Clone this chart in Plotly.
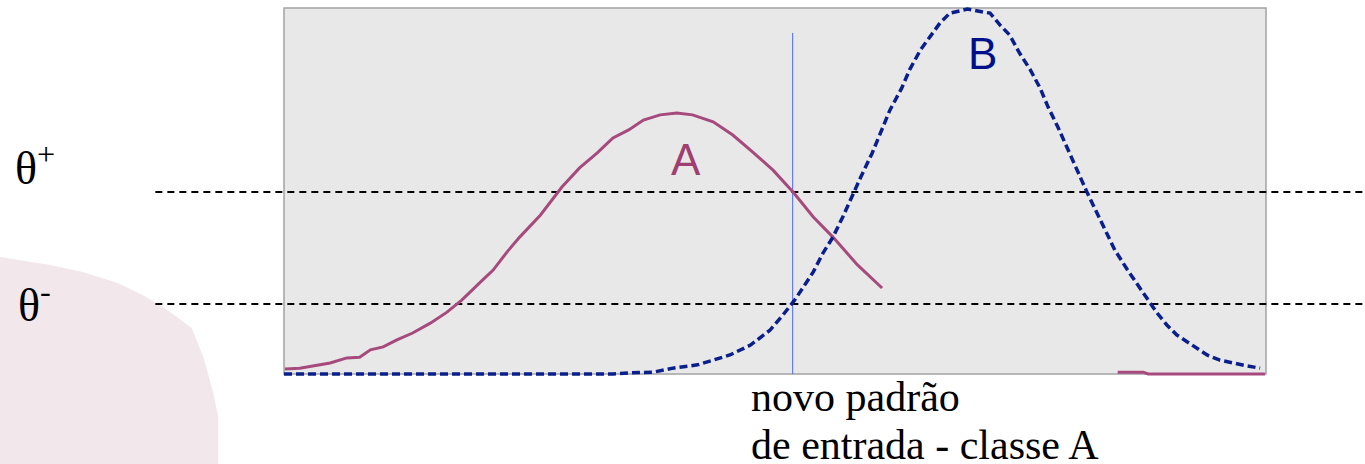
"""Two class distributions (A, B) with rejection thresholds theta+ / theta-."""

import plotly.graph_objects as go

# feature axis: 0..100 spans the grey panel; y: relative frequency 0..100
a_x = [0.1, 1.6, 4.7, 6.4, 7.7, 8.8, 10.1, 11.5, 13.1, 14.9, 16.6, 18.1, 20.0,
       21.3, 22.7, 24.0, 26.1, 27.1, 28.3, 30.1, 31.9, 33.5, 35.1, 36.6, 38.3,
       40.0, 41.6, 43.7, 45.7, 47.5, 49.8, 51.9, 53.9, 55.9, 58.4, 60.9]
a_y = [1.4, 1.6, 3.0, 4.4, 4.6, 6.6, 7.4, 9.3, 11.2, 13.9, 16.9, 20.2, 25.1,
       28.4, 33.3, 37.4, 43.4, 47.0, 51.1, 56.3, 60.4, 64.5, 66.7, 69.4, 70.8,
       71.3, 70.8, 68.9, 65.3, 61.2, 55.7, 49.5, 42.9, 37.4, 29.8, 23.5]
a_tail_x = [84.9, 87.5, 88.0, 99.9]
a_tail_y = [0.5, 0.5, 0.0, 0.0]

b_x = [0.0, 33.5, 35.2, 37.6, 39.6, 42.1, 43.7, 45.4, 47.5, 49.5, 50.8, 52.0,
       52.9, 53.9, 54.9, 55.9, 56.9, 57.8, 58.7, 59.9, 60.9, 61.7, 62.9, 63.7,
       64.8, 65.8, 66.8, 67.8, 69.6, 71.2, 71.9, 72.9, 73.9, 74.9, 76.0, 77.0,
       77.8, 78.8, 79.8, 80.9, 81.8, 82.8, 84.6, 85.9, 86.9, 88.0, 88.9, 89.9,
       90.9, 92.0, 93.0, 94.0, 95.3, 96.6, 98.1, 99.4]
b_y = [0.0, 0.0, 0.3, 0.5, 1.6, 2.5, 3.8, 5.2, 7.9, 12.0, 16.1, 20.2,
       23.8, 27.9, 33.1, 37.4, 42.9, 48.4, 53.6, 60.4, 67.2, 72.1, 78.1, 83.1,
       88.5, 92.1, 95.9, 98.6, 99.7, 98.9, 98.6, 95.4, 92.6, 87.7, 83.1, 78.1,
       73.0, 67.5, 61.7, 54.9, 49.5, 44.0, 33.9, 28.4, 24.3, 20.2, 16.7, 13.4,
       10.7, 8.7, 7.1, 5.2, 3.8, 3.0, 2.2, 1.6]

theta_plus = 49.7
theta_minus = 19.1
new_pattern_x = 51.8
new_pattern_top = 93.2

# decorative background blob (slide template), same units
blob_x = [-28.92, -23.8, -20.5, -17.0, -14.4, -11.9, -9.4, -8.2, -7.2, -6.7, -6.7, -28.92]
blob_y = [32.0, 29.8, 27.9, 24.9, 21.6, 17.5, 12.6, 4.6, -5.2, -11.7, -24.6, -24.6]

caption_lines = ["novo padrão", "de entrada - classe A"]

X_RANGE = [-28.92, 110.08]
Y_RANGE = [-24.59, 102.19]
LINE_START = -13.1

A_COLOR = "#a64a7d"
B_COLOR = "#0a1f8c"

fig = go.Figure()

fig.add_trace(go.Scatter(
    x=blob_x, y=blob_y, fill="toself", fillcolor="#f2e7ea",
    line=dict(width=0), mode="lines",
))

# thresholds
for th in (theta_plus, theta_minus):
    fig.add_trace(go.Scatter(
        x=[LINE_START, X_RANGE[1]], y=[th, th], mode="lines",
        line=dict(color="black", width=2, dash="7px,5px"),
    ))

fig.add_trace(go.Scatter(
    x=[new_pattern_x, new_pattern_x], y=[0, new_pattern_top], mode="lines",
    line=dict(color="#4a6af5", width=1),
))

fig.add_trace(go.Scatter(
    x=a_x, y=a_y, mode="lines", line=dict(color=A_COLOR, width=3),
))
fig.add_trace(go.Scatter(
    x=a_tail_x, y=a_tail_y, mode="lines", line=dict(color=A_COLOR, width=3),
))
fig.add_trace(go.Scatter(
    x=b_x, y=b_y, mode="lines",
    line=dict(color=B_COLOR, width=3.5, dash="8px,4px"),
))

fig.add_shape(type="rect", x0=0, x1=100, y0=0, y1=100, layer="below",
              fillcolor="#e8e8e8", line=dict(color="#a3a3a3", width=1.5))

serif = "Liberation Serif, Times New Roman, serif"
sans = "Liberation Sans, Arial, sans-serif"
fig.add_annotation(x=40.9, y=58.7, text="A", showarrow=False,
                   font=dict(family=sans, size=44, color="#9e3f70"))
fig.add_annotation(x=71.1, y=87.7, text="B", showarrow=False,
                   font=dict(family=sans, size=44, color="#00108a"))
fig.add_annotation(x=-27.6, y=57.2, text="θ<sup>+</sup>", showarrow=False,
                   xanchor="left", yanchor="middle",
                   font=dict(family=serif, size=46, color="black"))
fig.add_annotation(x=-27.3, y=19.6, text="θ<sup>-</sup>", showarrow=False,
                   xanchor="left", yanchor="middle",
                   font=dict(family=serif, size=46, color="black"))
for line, yy in zip(caption_lines, (-6.3, -19.4)):
    fig.add_annotation(x=47.4, y=yy, text=line, showarrow=False,
                       xanchor="left", yanchor="middle",
                       font=dict(family=serif, size=42, color="black"))

fig.update_layout(
    width=1365, height=464,
    margin=dict(l=0, r=0, t=0, b=0),
    paper_bgcolor="white", plot_bgcolor="white",
    showlegend=False, hovermode=False,
    xaxis=dict(range=X_RANGE, visible=False, fixedrange=True),
    yaxis=dict(range=Y_RANGE, visible=False, fixedrange=True),
)

fig.write_html("out.html", config={"staticPlot": True},
               post_script="document.body.style.margin='0';")
